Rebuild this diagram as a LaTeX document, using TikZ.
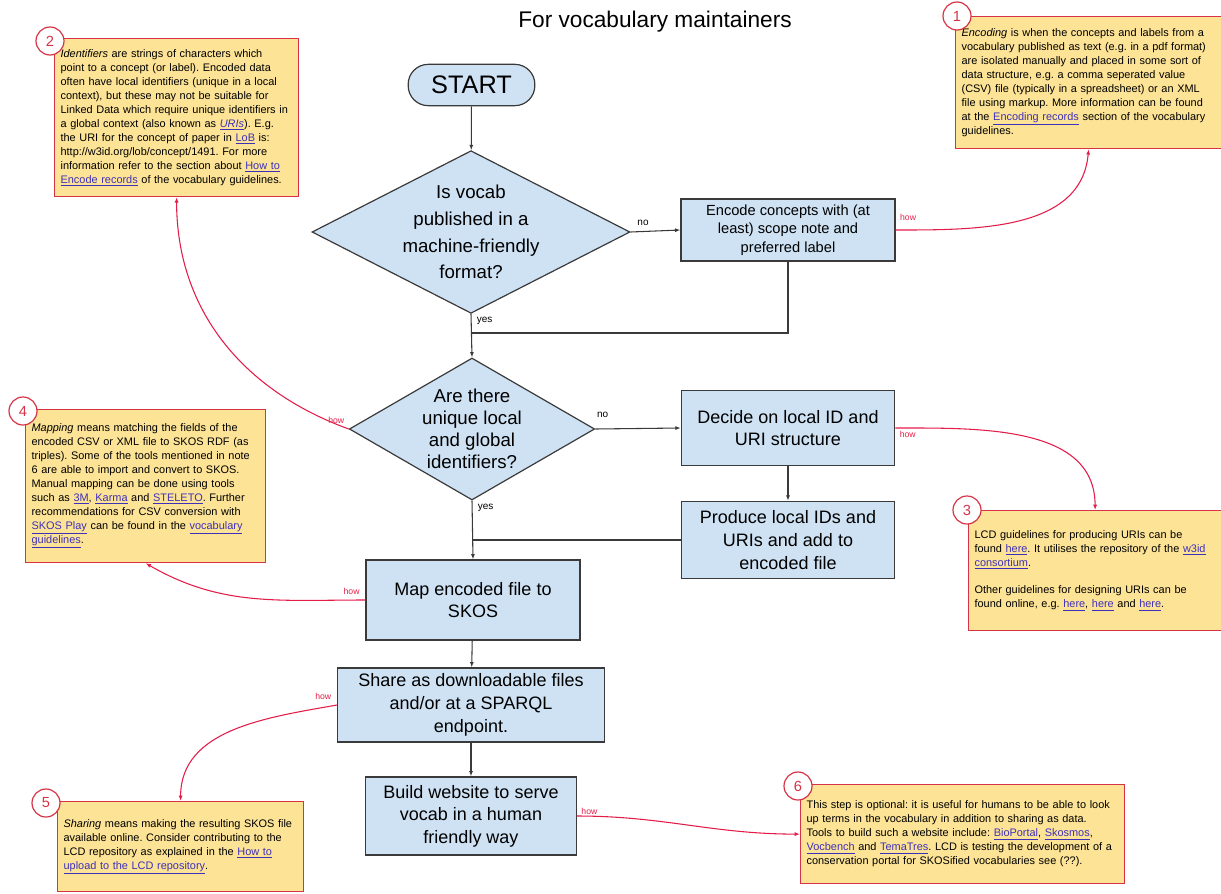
\documentclass[tikz,border=0pt]{standalone}
\usepackage{fontspec}
\setmainfont{Liberation Sans}
\usepackage{xcolor}
\usepackage{tikz}
\usetikzlibrary{shapes.geometric, arrows.meta, positioning, calc}
\definecolor{boxblue}{RGB}{207,226,243}
\definecolor{boxline}{RGB}{58,58,58}
\definecolor{notefill}{RGB}{252,227,150}
\definecolor{notered}{RGB}{214,52,70}
\definecolor{howred}{RGB}{228,28,72}
\definecolor{linkblue}{RGB}{62,48,185}
\newcommand{\lnk}[1]{\textcolor{linkblue}{\underline{#1}}}
\frenchspacing

\begin{document}
\begin{tikzpicture}[
    x=0.75pt, y=-0.75pt,
    stepbox/.style={rectangle, draw=boxline, fill=boxblue, line width=0.9pt, align=center, font=\fontsize{13.5}{17}\selectfont, inner sep=2pt},
    decision/.style={diamond, draw=boxline, fill=boxblue, line width=0.9pt, align=center, inner xsep=0pt, inner ysep=-20pt},
    note/.style={rectangle, draw=notered, fill=notefill, line width=0.9pt, anchor=north west, align=left, inner xsep=4.5pt, font=\fontsize{8.2}{10.5}\selectfont},
    notenum/.style={circle, draw=notered, fill=white, line width=0.9pt, minimum size=21pt, inner sep=0pt, text=notered, font=\fontsize{11}{11}\selectfont},
    flow/.style={-{Latex[length=4pt,width=3pt]}, line width=0.8pt, draw=boxline},
    plainline/.style={line width=0.8pt, draw=boxline},
    how/.style={-{Latex[length=4pt,width=3pt]}, line width=0.8pt, draw=howred},
    howlbl/.style={text=howred, font=\fontsize{6.5}{7}\selectfont, inner sep=1pt},
    anslbl/.style={font=\fontsize{7.5}{8}\selectfont, inner sep=1pt}
]
\useasboundingbox (0,0) rectangle (1221,893);

% Title
\node[font=\fontsize{17}{20}\selectfont] (subtitle) at (655,22) {For vocabulary maintainers};

% Flow
\node[stepbox, rounded corners=15pt, minimum width=95pt, minimum height=31pt, font=\fontsize{19}{22}\selectfont] (start) at (471.5,85) {START};
\node[decision, aspect=1.95, minimum width=238.5pt, minimum height=122pt, font=\fontsize{14}{20}\selectfont] (vocab) at (471,232) {Is vocab\\published in a\\machine-friendly\\format?};
\node[stepbox, minimum width=160.5pt, minimum height=46.5pt, font=\fontsize{11}{14}\selectfont] (encode) at (788,230) {Encode concepts with (at\\least) scope note and\\preferred label};
\node[decision, aspect=1.73, minimum width=184pt, minimum height=106.5pt, font=\fontsize{14}{16.5}\selectfont] (ident) at (472,429) {Are there\\unique local\\and global\\identifiers?};
\node[stepbox, minimum width=160pt, minimum height=56pt] (decide) at (788,428) {Decide on local ID and\\URI structure};
\node[stepbox, minimum width=160pt, minimum height=58pt] (produce) at (788,540) {Produce local IDs and\\URIs and add to\\encoded file};
\node[stepbox, minimum width=160.5pt, minimum height=60pt] (map) at (473,600) {Map encoded file to\\SKOS};
\node[stepbox, minimum width=200pt, minimum height=55.5pt] (share) at (471,705) {Share as downloadable files\\and/or at a SPARQL\\endpoint.};
\node[stepbox, minimum width=158pt, minimum height=58.5pt] (build) at (471,816) {Build website to serve\\vocab in a human\\friendly way};

\coordinate (joinA) at (471,333);
\coordinate (joinB) at (472,540);

\draw[flow] (start) -- (vocab);
\draw[flow] (vocab.east) -- node[anslbl, pos=0.25, above=3pt] (noA) {no} (encode.west);
\draw[plainline] (encode.south) |- (joinA);
\draw[flow] (vocab.south) -- node[anslbl, pos=0, anchor=north west, xshift=3pt, yshift=-1pt] (yesA) {yes} (ident.north);
\draw[flow] (ident.east) -- node[anslbl, pos=0, anchor=south west, yshift=7pt] (noB) {no} (decide.west);
\draw[flow] (decide) -- (produce);
\draw[plainline] (produce.west) -- (joinB);
\draw[flow] (ident.south) -- node[anslbl, pos=0, anchor=north west, xshift=3pt, yshift=-1pt] (yesB) {yes} (map.north);
\draw[flow] (map) -- (share);
\draw[flow] (share) -- (build);

% Notes
\node[note, text width=190.5pt, minimum height=99pt] (n1) at (955,16) {\textit{Encoding} is when the concepts and labels from a\\vocabulary published as text (e.g. in a pdf format)\\are isolated manually and placed in some sort of\\data structure, e.g. a comma seperated value\\(CSV) file (typically in a spreadsheet) or an XML\\file using markup. More information can be found\\at the \lnk{Encoding records} section of the vocabulary\\guidelines.};
\node[note, text width=174pt, minimum height=118.5pt] (n2) at (54,38) {\textit{Identifiers} are strings of characters which\\point to a concept (or label). Encoded data\\often have local identifiers (unique in a local\\context), but these may not be suitable for\\Linked Data which require unique identifiers in\\a global context (also known as \lnk{\textit{URIs}}). E.g.\\the URI for the concept of paper in \lnk{LoB} is:\\http://w3id.org/lob/concept/1491. For more\\information refer to the section about \lnk{How to}\\\lnk{Encode records} of the vocabulary guidelines.};
\node[note, text width=180.75pt, minimum height=90pt] (n3) at (968,510) {LCD guidelines for producing URIs can be\\found \lnk{here}. It utilises the repository of the \lnk{w3id}\\\lnk{consortium}.\\[10pt]Other guidelines for designing URIs can be\\found online, e.g. \lnk{here}, \lnk{here} and \lnk{here}.};
\node[note, text width=171pt, minimum height=114.75pt] (n4) at (25,409) {\textit{Mapping} means matching the fields of the\\encoded CSV or XML file to SKOS RDF (as\\triples). Some of the tools mentioned in note\\6 are able to import and convert to SKOS.\\Manual mapping can be done using tools\\such as \lnk{3M}, \lnk{Karma} and \lnk{STELETO}. Further\\recommendations for CSV conversion with\\\lnk{SKOS Play} can be found in the \lnk{vocabulary}\\\lnk{guidelines}.};
\node[note, text width=175.5pt, minimum height=67.5pt] (n5) at (57,801) {\textit{Sharing} means making the resulting SKOS file\\available online. Consider contributing to the\\LCD repository as explained in the \lnk{How to}\\\lnk{upload to the LCD repository}.};
\node[note, text width=234pt, minimum height=74.25pt] (n6) at (800,784) {This step is optional: it is useful for humans to be able to look\\up terms in the vocabulary in addition to sharing as data.\\Tools to build such a website include: \lnk{BioPortal}, \lnk{Skosmos},\\\lnk{Vocbench} and \lnk{TemaTres}. LCD is testing the development of a\\conservation portal for SKOSified vocabularies see (??).};

% Note numbers
\node[notenum] (c1) at (957,16) {1};
\node[notenum] (c2) at (50,41) {2};
\node[notenum] (c3) at (967,510) {3};
\node[notenum] (c4) at (23,411) {4};
\node[notenum] (c5) at (46,803) {5};
\node[notenum] (c6) at (798,786) {6};

% How links
\draw[how] (encode.east) to[out=0, in=-95] node[howlbl, pos=0, anchor=south west, xshift=2pt, yshift=6pt] (howA) {how} (n1.south);
\draw[how] (ident.west) to[out=160, in=-90] node[howlbl, pos=0, anchor=south east, xshift=-2pt, yshift=3pt] (howB) {how} (n2.south);
\draw[how] (decide.east) to[out=0, in=90] node[howlbl, pos=0, anchor=north west, xshift=2pt, yshift=-1pt] (howC) {how} (n3.north);
\draw[how] (map.west) to[out=180, in=-30] node[howlbl, pos=0, anchor=south east, xshift=-3pt, yshift=3pt] (howD) {how} (n4.south);
\draw[how] (share.west) to[out=190, in=90] node[howlbl, pos=0, anchor=south east, xshift=-3pt, yshift=3pt] (howE) {how} (n5.north);
\draw[how] (build.east) to[out=0, in=180] node[howlbl, pos=0, anchor=south west, xshift=2pt] (howF) {how} (n6.west);
\end{tikzpicture}
\end{document}
